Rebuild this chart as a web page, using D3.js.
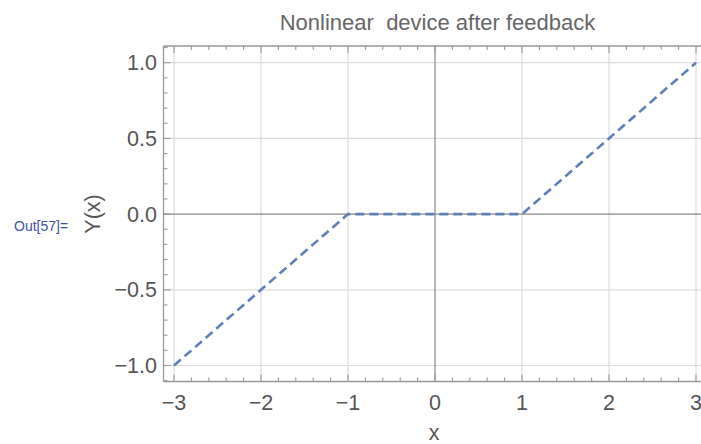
<!DOCTYPE html>
<html><head><meta charset="utf-8">
<script src="https://cdn.jsdelivr.net/npm/d3@7"></script>
<style>body{margin:0;background:#fff}svg{display:block}text{font-family:"Liberation Sans",Arial,sans-serif;white-space:pre}</style>
</head><body><svg id="c" width="701" height="444"></svg>
<script>
const xValues = [-3, -1, 1, 3];
const yValues = [-1, 0, 0, 1];
const xTicks = [-3, -2, -1, 0, 1, 2, 3];
const yTicks = [-1.0, -0.5, 0.0, 0.5, 1.0];
const titleText = "Nonlinear  device after feedback";
const xLabel = "x", yLabel = "Y(x)", outLabel = "Out[57]=";

(function(){
const svg = d3.select("#c");
const x = d3.scaleLinear().domain([-3, 3]).range([174, 696]);
const y = d3.scaleLinear().domain([-1, 1]).range([365.5, 62.7]);
const pL = 163.5, pR = 707, pT = 46, pB = 381.5;
const fmt = v => (v < 0 ? "\u2212" : "") + Math.abs(v).toString();
const fmtY = v => (v < 0 ? "\u2212" : "") + Math.abs(v).toFixed(1);

svg.append("g").selectAll("line").data(xTicks.filter(d => d !== 0)).join("line")
  .attr("x1", d => x(d)).attr("x2", d => x(d)).attr("y1", pT).attr("y2", pB)
  .attr("stroke", "#dcdcdc").attr("stroke-width", 1.2);
svg.append("g").selectAll("line").data(yTicks.filter(d => d !== 0)).join("line")
  .attr("y1", d => y(d)).attr("y2", d => y(d)).attr("x1", pL).attr("x2", pR)
  .attr("stroke", "#dcdcdc").attr("stroke-width", 1.2);
svg.append("line").attr("x1", x(0)).attr("x2", x(0)).attr("y1", pT).attr("y2", pB).attr("stroke", "#888").attr("stroke-width", 1.2);
svg.append("line").attr("y1", y(0)).attr("y2", y(0)).attr("x1", pL).attr("x2", pR).attr("stroke", "#888").attr("stroke-width", 1.2);

const fc = "#999";
svg.append("line").attr("x1", pL).attr("x2", pL).attr("y1", pT).attr("y2", pB).attr("stroke", fc).attr("stroke-width", 1.3);
svg.append("line").attr("x1", pL).attr("x2", pR).attr("y1", pB).attr("y2", pB).attr("stroke", fc).attr("stroke-width", 1.3);
svg.append("line").attr("x1", pL).attr("x2", pR).attr("y1", pT).attr("y2", pT).attr("stroke", fc).attr("stroke-width", 1.3);

const xMinor = d3.range(-3.2, 3.21, 0.2).map(v => +v.toFixed(2)).filter(v => x(v) > pL && x(v) < 701);
const yMinor = d3.range(-1.1, 1.11, 0.1).map(v => +v.toFixed(2)).filter(v => y(v) > pT && y(v) < pB);
const isMajX = v => Math.abs(v - Math.round(v)) < 1e-6;
const isMajY = v => Math.abs(v * 2 - Math.round(v * 2)) < 1e-6;
const tg = svg.append("g").attr("stroke", fc).attr("stroke-width", 1.1);
tg.selectAll(".xb").data(xMinor).join("line").attr("x1", d => x(d)).attr("x2", d => x(d))
  .attr("y1", pB).attr("y2", d => pB - (isMajX(d) ? 7 : 4));
tg.selectAll(".xt").data(xMinor).join("line").attr("x1", d => x(d)).attr("x2", d => x(d))
  .attr("y1", pT).attr("y2", d => pT + (isMajX(d) ? 7 : 4));
tg.selectAll(".yl").data(yMinor).join("line").attr("y1", d => y(d)).attr("y2", d => y(d))
  .attr("x1", pL).attr("x2", d => pL + (isMajY(d) ? 7 : 4));

svg.append("g").selectAll("text").data(xTicks).join("text")
  .attr("x", d => x(d)).attr("y", 410).attr("text-anchor", "middle")
  .attr("font-size", 21.5).attr("fill", "#555").text(fmt);
svg.append("g").selectAll("text").data(yTicks).join("text")
  .attr("x", 157).attr("y", d => y(d) + 7.5).attr("text-anchor", "end")
  .attr("font-size", 21.5).attr("fill", "#555").text(fmtY);

svg.append("path").datum(xValues.map((v, i) => [v, yValues[i]]))
  .attr("d", d3.line().x(d => x(d[0])).y(d => y(d[1])))
  .attr("fill", "none").attr("stroke", "#5E81B5").attr("stroke-width", 2.6)
  .attr("stroke-dasharray", "9,5");

svg.append("text").attr("x", 437.5).attr("y", 30).attr("text-anchor", "middle").attr("font-size", 22).attr("fill", "#666").text(titleText);
svg.append("text").attr("x", 434).attr("y", 440).attr("text-anchor", "middle").attr("font-size", 21.5).attr("fill", "#555").text(xLabel);
svg.append("text").attr("transform", "translate(100,214) rotate(-90)").attr("text-anchor", "middle").attr("font-size", 21.5).attr("fill", "#555").text(yLabel);
svg.append("text").attr("x", 14).attr("y", 231).attr("font-size", 14).attr("fill", "#3D52A8").text(outLabel);
})();
</script></body></html>
